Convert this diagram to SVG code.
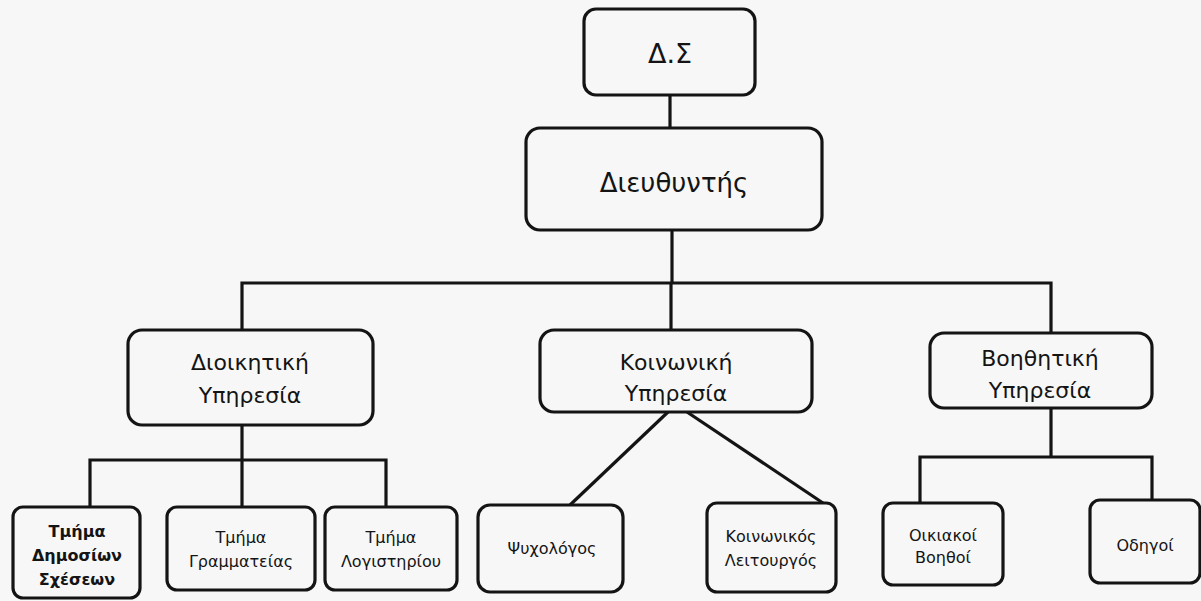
<svg xmlns="http://www.w3.org/2000/svg" width="1201" height="601" viewBox="0 0 1201 601">
<style>
.bg{fill:#f7f7f7}
.box{fill:#f7f7f7;stroke:#141414;stroke-width:3.2}
.ln{fill:none;stroke:#141414;stroke-width:3.2}
text{font-family:"DejaVu Sans","Liberation Sans",sans-serif;fill:#141414;text-anchor:middle}
.t0{font-size:27px}
.t1{font-size:26px}
.t2{font-size:22px}
.t3{font-size:16px}
</style>
<rect class="bg" x="0" y="0" width="1201" height="601"/>
<g id="connectors">
<line class="ln" x1="670" y1="95" x2="670" y2="128"/>
<line class="ln" x1="672" y1="230" x2="672" y2="283"/>
<polyline class="ln" points="242,330 242,283 1051,283 1051,333"/>
<line class="ln" x1="671" y1="283" x2="671" y2="330"/>
<line class="ln" x1="242" y1="425" x2="242" y2="507"/>
<polyline class="ln" points="90,507 90,460 386,460 386,507"/>
<line class="ln" x1="668" y1="412" x2="570" y2="505"/>
<line class="ln" x1="687" y1="412" x2="823" y2="503"/>
<line class="ln" x1="1051" y1="408" x2="1051" y2="457"/>
<polyline class="ln" points="920,503 920,457 1152,457 1152,500"/>
</g>
<g id="ds">
<rect class="box" x="584" y="9" width="171" height="86" rx="12"/>
<text class="t0" x="670" y="63">Δ.Σ</text>
</g>
<g id="director">
<rect class="box" x="526" y="128" width="296" height="102" rx="14"/>
<text class="t1" x="674" y="192">Διευθυντής</text>
</g>
<g id="admin">
<rect class="box" x="128" y="330" width="245" height="95" rx="14"/>
<text class="t2" x="250" y="370">Διοικητική</text>
<text class="t2" x="250" y="403">Υπηρεσία</text>
</g>
<g id="social">
<rect class="box" x="540" y="330" width="272" height="82" rx="14"/>
<text class="t2" x="676" y="370">Κοινωνική</text>
<text class="t2" x="676" y="401">Υπηρεσία</text>
</g>
<g id="auxiliary">
<rect class="box" x="930" y="333" width="222" height="75" rx="14"/>
<text class="t2" x="1040" y="366">Βοηθητική</text>
<text class="t2" x="1040" y="398">Υπηρεσία</text>
</g>
<g id="pr">
<rect class="box" x="13" y="507" width="127" height="91" rx="10"/>
<text class="t3" x="77" y="537" font-weight="bold">Τμήμα</text>
<text class="t3" x="77" y="561" font-weight="bold">Δημοσίων</text>
<text class="t3" x="77" y="585" font-weight="bold">Σχέσεων</text>
</g>
<g id="secretariat">
<rect class="box" x="167" y="507" width="148" height="83" rx="10"/>
<text class="t3" x="241" y="543">Τμήμα</text>
<text class="t3" x="241" y="567">Γραμματείας</text>
</g>
<g id="accounting">
<rect class="box" x="325" y="507" width="132" height="83" rx="10"/>
<text class="t3" x="391" y="543">Τμήμα</text>
<text class="t3" x="391" y="567">Λογιστηρίου</text>
</g>
<g id="psychologist">
<rect class="box" x="478" y="505" width="145" height="87" rx="12"/>
<text class="t3" x="552" y="554">Ψυχολόγος</text>
</g>
<g id="socialworker">
<rect class="box" x="707" y="503" width="129" height="89" rx="10"/>
<text class="t3" x="771" y="542">Κοινωνικός</text>
<text class="t3" x="771" y="566">Λειτουργός</text>
</g>
<g id="housekeepers">
<rect class="box" x="883" y="503" width="120" height="82" rx="10"/>
<text class="t3" x="943" y="541">Οικιακοί</text>
<text class="t3" x="943" y="563">Βοηθοί</text>
</g>
<g id="drivers">
<rect class="box" x="1090" y="500" width="110" height="83" rx="10"/>
<text class="t3" x="1145" y="551">Οδηγοί</text>
</g>
</svg>
